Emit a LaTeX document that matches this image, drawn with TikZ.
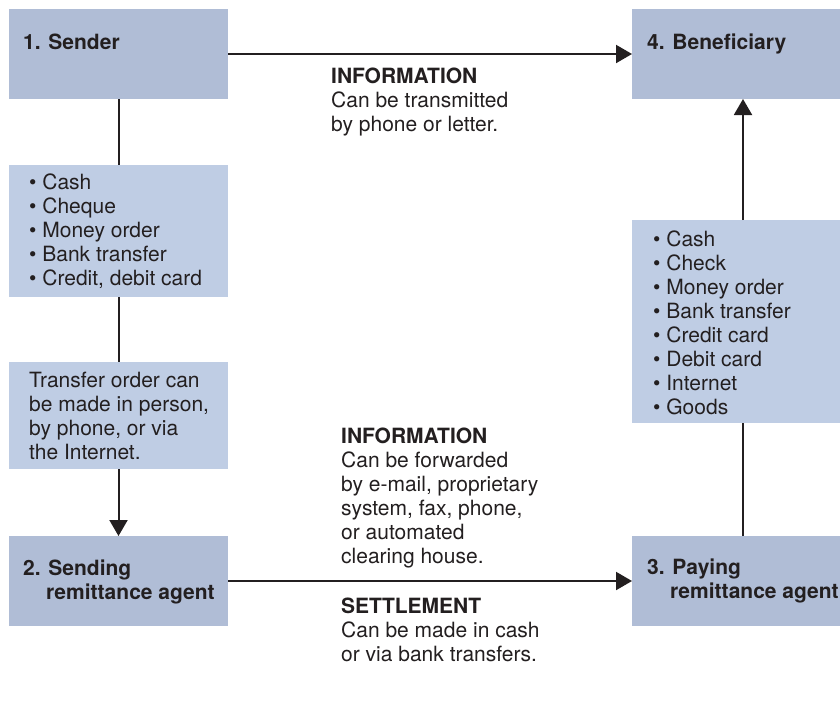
\documentclass[tikz,border=0pt]{standalone}
\usepackage{fontspec}
\setmainfont{TeX Gyre Heros}
\usetikzlibrary{arrows.meta}
\definecolor{hdr}{RGB}{176,189,214}
\definecolor{lst}{RGB}{191,205,228}
\definecolor{ink}{RGB}{35,31,32}
\newcommand{\lines}[1]{\begin{tabular}[t]{@{}l@{}}#1\end{tabular}}
\begin{document}
\begin{tikzpicture}[x=1pt,y=-1pt,
  box/.style={anchor=north west, inner sep=0pt, outer sep=0pt, draw=none},
  hbox/.style={box, fill=hdr},
  lbox/.style={box, fill=lst},
  txt/.style={anchor=base west, inner sep=0pt, text=ink, font=\fontsize{21}{24}\selectfont},
  conn/.style={draw=ink, line width=2pt},
  arr/.style={conn, -{Triangle[length=16pt,width=18pt]}}]
\useasboundingbox[fill=white] (0,0) rectangle (840,704);
% boxes
\node[hbox, minimum width=219pt, minimum height=90pt] (sender) at (9,9) {};
\node[hbox, minimum width=208pt, minimum height=90pt] (benef) at (632,9) {};
\node[lbox, minimum width=219pt, minimum height=132pt] (cashL) at (9,165) {};
\node[lbox, minimum width=219pt, minimum height=107pt] (order) at (9,362) {};
\node[hbox, minimum width=219pt, minimum height=90pt] (sendag) at (9,536) {};
\node[lbox, minimum width=208pt, minimum height=203pt] (cashR) at (632,220) {};
\node[hbox, minimum width=208pt, minimum height=90pt] (payag) at (632,536) {};
\coordinate (rx) at (743,0);
% connectors
\draw[arr] (sender.east) -- (benef.west);
\draw[conn] (sender.south) -- (cashL.north);
\draw[conn] (cashL.south) -- (order.north);
\draw[arr] (order.south) -- (sendag.north);
\draw[arr] (sendag.east) -- (payag.west);
\draw[conn] (payag.north -| rx) -- (cashR.south -| rx);
\draw[arr] (cashR.north -| rx) -- (benef.south -| rx);
% texts
\node[txt] (senderlbl) at (23,49) {\bfseries 1. Sender};
\node[txt] (beneflbl) at (647,49) {\bfseries 4. Beneficiary};
\node[txt] (info1) at (331,83) {\lines{\textbf{INFORMATION}\\Can be transmitted\\by phone or letter.}};
\node[txt] (cashLtxt) at (29,189) {\lines{\textbullet\ Cash\\\textbullet\ Cheque\\\textbullet\ Money order\\\textbullet\ Bank transfer\\\textbullet\ Credit, debit card}};
\node[txt] (ordertxt) at (29,387) {\lines{Transfer order can\\be made in person,\\by phone, or via\\the Internet.}};
\node[txt] (sendlbl) at (23,575) {\lines{\textbf{2. Sending}\\\hspace{23pt}\textbf{remittance agent}}};
\node[txt] (cashRtxt) at (653,246) {\lines{\textbullet\ Cash\\\textbullet\ Check\\\textbullet\ Money order\\\textbullet\ Bank transfer\\\textbullet\ Credit card\\\textbullet\ Debit card\\\textbullet\ Internet\\\textbullet\ Goods}};
\node[txt] (paylbl) at (647,574) {\lines{\textbf{3. Paying}\\\hspace{23pt}\textbf{remittance agent}}};
\node[txt] (info2) at (341,443) {\lines{\textbf{INFORMATION}\\Can be forwarded\\by e-mail, proprietary\\system, fax, phone,\\or automated\\clearing house.}};
\node[txt] (settle) at (341,613) {\lines{\textbf{SETTLEMENT}\\Can be made in cash\\or via bank transfers.}};
\end{tikzpicture}
\end{document}
